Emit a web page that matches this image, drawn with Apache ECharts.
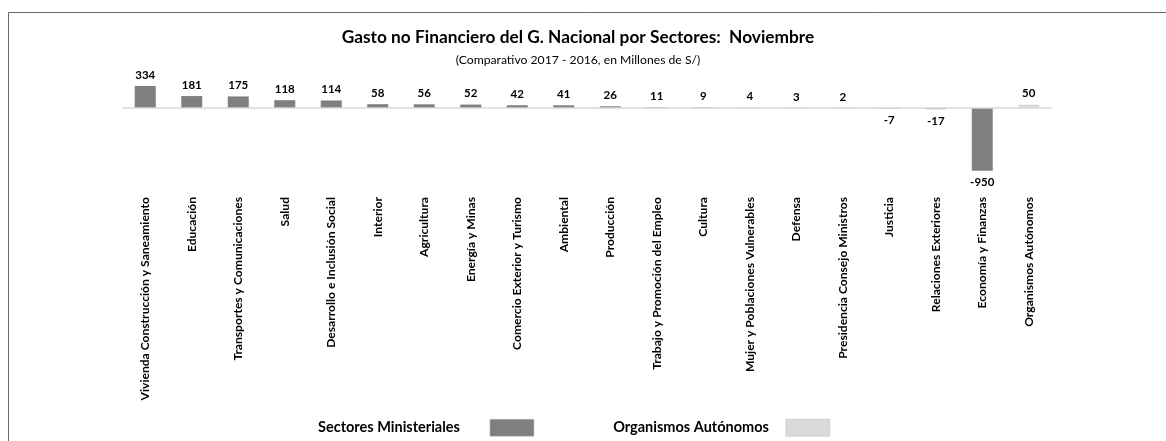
<!DOCTYPE html>
<html>

<head>
	<meta charset="utf-8">
	<title>Gasto no Financiero</title>
	<style type="text/css">
	html, body {
		margin: 0;
		padding: 0;
		background: #fff;
	}

	#chart {
		width: 1166px;
		height: 441px;
	}
	</style>
</head>

<body>
	<div id="chart"></div>
	<script src="https://cdn.jsdelivr.net/npm/echarts@6/dist/echarts.min.js"></script>
	<script>
	// categorias del eje x
	var categorias = [
		'Vivienda Construcción y Saneamiento', 'Educación', 'Transportes y Comunicaciones', 'Salud',
		'Desarrollo e Inclusión Social', 'Interior', 'Agricultura', 'Energía y Minas',
		'Comercio Exterior y Turismo', 'Ambiental', 'Producción', 'Trabajo y Promoción del Empleo',
		'Cultura', 'Mujer y Poblaciones Vulnerables', 'Defensa', 'Presidencia Consejo Ministros',
		'Justicia', 'Relaciones Exteriores', 'Economía y Finanzas', 'Organismos Autónomos'
	];
	// valores (millones de S/)
	var sectoresMinisteriales = [334, 181, 175, 118, 114, 58, 56, 52, 42, 41, 26, 11, 9, 4, 3, 2, -7, -17, -950];
	var organismosAutonomos = [50];

	var fuente = 'Lato, "Open Sans", sans-serif';

	function etiqueta(v) {
		return {
			value: v,
			label: { position: v < 0 ? 'bottom' : 'top', distance: v < 0 ? 6 : 5 }
		};
	}

	var dataMin = [], dataOrg = [];
	for (var i = 0; i < categorias.length; i++) {
		if (i < sectoresMinisteriales.length) {
			dataMin.push(etiqueta(sectoresMinisteriales[i]));
			dataOrg.push('-');
		} else {
			dataMin.push('-');
			dataOrg.push(etiqueta(organismosAutonomos[i - sectoresMinisteriales.length]));
		}
	}

	var labelComun = {
		show: true,
		color: '#000',
		fontFamily: fuente,
		fontWeight: 'bold',
		fontSize: 11.5
	};

	var option = {
		animation: false,
		title: {
			text: 'Gasto no Financiero del G. Nacional por Sectores:  Noviembre',
			subtext: '(Comparativo 2017 - 2016, en Millones de S/)',
			left: 573,
			top: 24,
			textAlign: 'center',
			itemGap: 8,
			textStyle: {
				color: '#000',
				fontFamily: fuente,
				fontWeight: 'bold',
				fontSize: 17.3
			},
			subtextStyle: {
				color: '#000',
				fontFamily: fuente,
				fontSize: 12.2
			}
		},
		legend: {
			left: 313,
			top: 414,
			align: 'right',
			icon: 'rect',
			itemWidth: 44,
			itemHeight: 17,
			itemGap: 79,
			itemStyle: { borderColor: '#bfbfbf', borderWidth: 0.5 },
			textStyle: {
				color: '#000',
				fontFamily: fuente,
				fontWeight: 'bold',
				fontSize: 14.5,
				padding: [0, 25, 0, 0]
			},
			data: [
				'Sectores Ministeriales',
				{ name: 'Organismos Autónomos', textStyle: { padding: [0, 12, 0, 0] } }
			]
		},
		grid: {
			left: 122,
			right: 114,
			top: 81.6,
			bottom: 267,
			containLabel: false
		},
		xAxis: {
			type: 'category',
			data: categorias,
			position: 'bottom',
			axisLine: { show: false, onZero: false },
			axisTick: { show: false },
			axisLabel: {
				rotate: 90,
				interval: 0,
				margin: 23,
				color: '#000',
				fontFamily: fuente,
				fontWeight: 'bold',
				fontSize: 12.1
			}
		},
		yAxis: {
			type: 'value',
			min: -1000,
			max: 400,
			show: false,
			splitLine: { show: false }
		},
		graphic: [{
			type: 'rect',
			shape: { x: 8.5, y: 12.5, width: 1300, height: 600 },
			style: { fill: null, stroke: '#666', lineWidth: 1 },
			silent: true
		}],
		series: [{
				name: 'Sectores Ministeriales',
				type: 'bar',
				barWidth: 21,
				barGap: '-100%',
				itemStyle: { color: '#7f7f7f' },
				label: labelComun,
				data: dataMin,
				markLine: {
					silent: true,
					symbol: 'none',
					label: { show: false },
					lineStyle: { color: '#d9d9d9', width: 1.5, type: 'solid' },
					data: [{ yAxis: 0 }]
				}
			},
			{
				name: 'Organismos Autónomos',
				type: 'bar',
				barWidth: 21,
				barGap: '-100%',
				itemStyle: { color: '#d9d9d9' },
				label: labelComun,
				data: dataOrg
			}
		]
	};

	var myChart = echarts.init(document.getElementById('chart'));
	myChart.setOption(option, true);
	</script>
</body>

</html>
